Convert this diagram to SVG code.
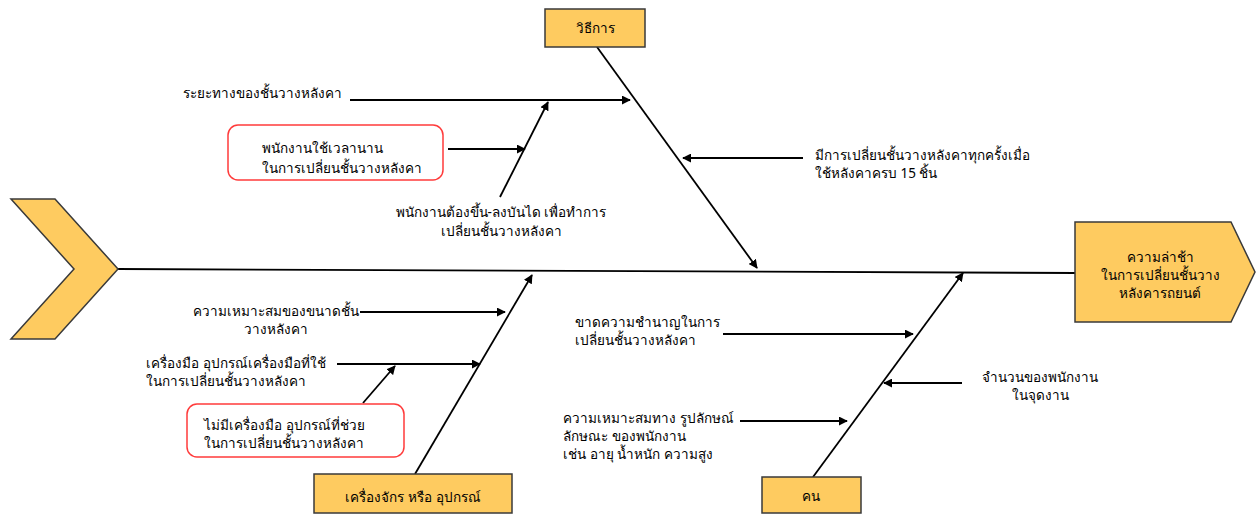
<svg xmlns="http://www.w3.org/2000/svg" width="1258" height="515" viewBox="0 0 1258 515">
<defs>
<style>
text{font-family:Tahoma,"Noto Sans","DejaVu Sans",sans-serif;font-size:13.5px;fill:#000}
.c{text-anchor:middle}
.box{fill:#FECB60;stroke:#3a3a3a;stroke-width:1.5}
.rbox{fill:#fff;stroke:#FF3B3B;stroke-width:1.5}
.ln{stroke:#000;stroke-width:1.8;fill:none}
.ar{stroke:#000;stroke-width:1.8;fill:none;marker-end:url(#ah)}
</style>
<marker id="ah" viewBox="0 0 10 10" refX="9" refY="5" markerWidth="5" markerHeight="5" orient="auto" markerUnits="strokeWidth">
<path d="M0,0 L10,5 L0,10 z" fill="#000"/>
</marker>
</defs>
<rect width="1258" height="515" fill="#fff"/>

<g id="connectors">
<line class="ln" x1="118" y1="269" x2="1076" y2="273"/>
<line class="ar" x1="597" y1="47" x2="757" y2="268"/>
<line class="ar" x1="350" y1="100" x2="630" y2="100"/>
<line class="ar" x1="500" y1="197" x2="548" y2="102"/>
<line class="ar" x1="448" y1="149" x2="525" y2="149"/>
<line class="ar" x1="803" y1="158" x2="683" y2="158"/>
<line class="ar" x1="415" y1="474" x2="532" y2="275"/>
<line class="ar" x1="360" y1="312" x2="505" y2="312"/>
<line class="ar" x1="337" y1="364" x2="480" y2="364"/>
<line class="ar" x1="363" y1="403" x2="395" y2="366"/>
<line class="ar" x1="813" y1="477" x2="963" y2="273"/>
<line class="ar" x1="723" y1="334" x2="913" y2="334"/>
<line class="ar" x1="962" y1="383" x2="884" y2="383"/>
<line class="ar" x1="740" y1="421" x2="847" y2="421"/>
</g>

<g id="head-chevron">
<polygon class="box" points="11,199 55,199 118,269 55,339 11,339 74,269"/>
</g>

<g id="effect">
<polygon class="box" points="1075,222 1231,222 1255,272 1231,322 1075,322"/>
<text class="c" x="1160" y="262">ความล่าช้า</text>
<text class="c" x="1160" y="280">ในการเปลี่ยนชั้นวาง</text>
<text class="c" x="1160" y="298">หลังคารถยนต์</text>
</g>

<g id="method">
<rect class="box" x="545" y="9" width="100" height="38"/>
<text class="c" x="595" y="33">วิธีการ</text>
</g>

<g id="machine">
<rect class="box" x="314" y="474" width="198" height="39"/>
<text class="c" x="413" y="502">เครื่องจักร หรือ อุปกรณ์</text>
</g>

<g id="man">
<rect class="box" x="762" y="477" width="99" height="36"/>
<text class="c" x="811" y="501">คน</text>
</g>

<g id="cause-distance">
<text x="183" y="98">ระยะทางของชั้นวางหลังคา</text>
</g>

<g id="cause-time">
<rect class="rbox" x="228" y="125" width="215" height="55" rx="10" ry="10"/>
<text x="262" y="153">พนักงานใช้เวลานาน</text>
<text x="262" y="173">ในการเปลี่ยนชั้นวางหลังคา</text>
</g>

<g id="cause-ladder">
<text class="c" x="501" y="217">พนักงานต้องขึ้น-ลงบันได เพื่อทำการ</text>
<text class="c" x="501" y="236">เปลี่ยนชั้นวางหลังคา</text>
</g>

<g id="cause-change">
<text x="815" y="160">มีการเปลี่ยนชั้นวางหลังคาทุกครั้งเมื่อ</text>
<text x="815" y="178">ใช้หลังคาครบ 15 ชิ้น</text>
</g>

<g id="cause-size">
<text class="c" x="276" y="316">ความเหมาะสมของขนาดชั้น</text>
<text class="c" x="276" y="334">วางหลังคา</text>
</g>

<g id="cause-tools">
<text x="146" y="368">เครื่องมือ อุปกรณ์เครื่องมือที่ใช้</text>
<text x="146" y="386">ในการเปลี่ยนชั้นวางหลังคา</text>
</g>

<g id="cause-notools">
<rect class="rbox" x="187" y="404" width="217" height="53" rx="10" ry="10"/>
<text x="204" y="430">ไม่มีเครื่องมือ อุปกรณ์ที่ช่วย</text>
<text x="204" y="448">ในการเปลี่ยนชั้นวางหลังคา</text>
</g>

<g id="cause-skill">
<text x="575" y="327">ขาดความชำนาญในการ</text>
<text x="575" y="345">เปลี่ยนชั้นวางหลังคา</text>
</g>

<g id="cause-count">
<text class="c" x="1040" y="382">จำนวนของพนักงาน</text>
<text class="c" x="1040" y="400">ในจุดงาน</text>
</g>

<g id="cause-physique">
<text x="563" y="423">ความเหมาะสมทาง รูปลักษณ์</text>
<text x="563" y="441">ลักษณะ ของพนักงาน</text>
<text x="563" y="459">เช่น อายุ น้ำหนัก ความสูง</text>
</g>
</svg>
